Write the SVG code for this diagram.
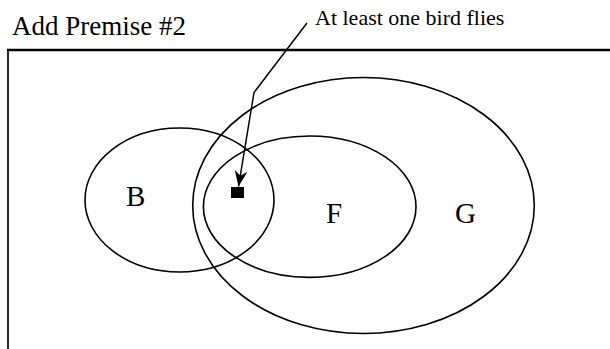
<svg xmlns="http://www.w3.org/2000/svg" width="610" height="349" viewBox="0 0 610 349">
  <style>
    .shape { fill: none; stroke: #000; stroke-width: 1.6; }
    .txt { font-family: "Liberation Serif", "Times New Roman", serif; fill: #000; }
    .conn { fill: none; stroke: #000; stroke-width: 1.5; }
  </style>
  <defs>
    <marker id="arrow" markerUnits="userSpaceOnUse" markerWidth="20" markerHeight="16" viewBox="-17 -8 18 16" refX="0" refY="0" orient="auto">
      <path d="M0,0 L-16,-6.5 L-11,0 L-16,6.5 Z" fill="#000"/>
    </marker>
  </defs>
  <rect width="610" height="349" fill="#fff"/>
  <text class="txt" x="12" y="35" font-size="27">Add Premise #2</text>
  <g id="frame">
    <line x1="7" y1="50" x2="610" y2="50" stroke="#000" stroke-width="2.6"/>
    <line x1="8" y1="50" x2="8" y2="349" stroke="#000" stroke-width="1.7"/>
  </g>
  <g id="G">
    <ellipse class="shape" cx="363.5" cy="205.5" rx="170.8" ry="128"/>
    <text class="txt" x="455" y="222.5" font-size="29">G</text>
  </g>
  <g id="F">
    <ellipse class="shape" cx="309.7" cy="206.7" rx="106.3" ry="70.7"/>
    <text class="txt" x="326" y="222.5" font-size="29">F</text>
  </g>
  <g id="B">
    <ellipse class="shape" cx="179.5" cy="200" rx="94.5" ry="72"/>
    <text class="txt" x="126" y="206" font-size="29">B</text>
  </g>
  <g id="point">
    <rect x="231" y="187" width="13" height="11" fill="#000"/>
  </g>
  <g id="label">
    <text class="txt" x="315" y="25" font-size="22">At least one bird flies</text>
  </g>
  <g id="connectors">
    <polyline class="conn" points="307,23 254,92.5 238.5,186.5" marker-end="url(#arrow)"/>
  </g>
</svg>
